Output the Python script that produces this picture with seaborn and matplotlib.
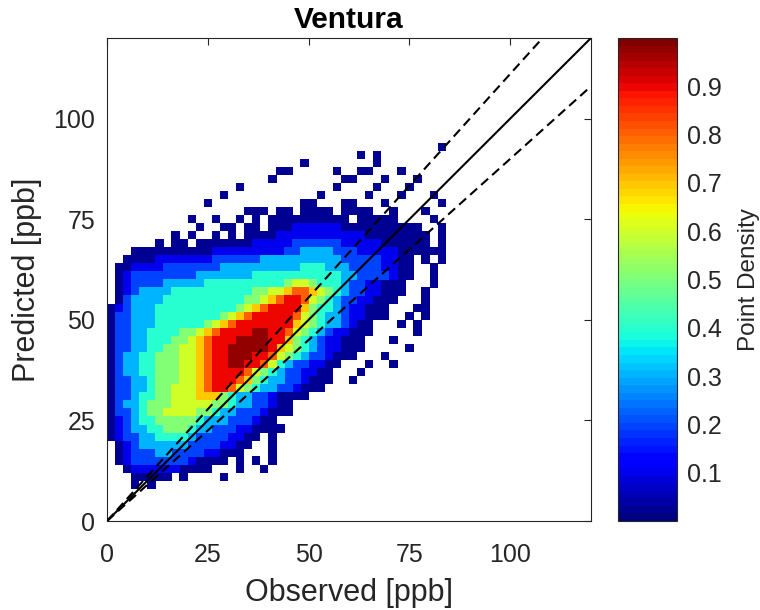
import matplotlib
matplotlib.use("Agg")
import matplotlib.pyplot as plt
from matplotlib.colors import Normalize
from matplotlib.cm import ScalarMappable
import pandas as pd
import seaborn as sns

title = "Ventura"
x_label = "Observed [ppb]"
y_label = "Predicted [ppb]"
cbar_label = "Point Density"
axis_ticks = [0, 25, 50, 75, 100]
cbar_ticks = [0.1, 0.2, 0.3, 0.4, 0.5, 0.6, 0.7, 0.8, 0.9]
ratio_lines = [0.9, 1 / 0.9]          # +/-10 % guide lines around 1:1

# Binned observations on a 2 ppb grid.
# Columns: observed = 1, 3, ..., 89 ; rows: predicted = 93, 91, ..., 9
observed_bins = list(range(1, 90, 2))
predicted_bins = list(range(93, 8, -2))

# Normalised point density per cell ('.' = no points in the cell)
density_code = {'0': 0.03, '1': 0.10, '2': 0.20, '3': 0.30, '4': 0.40,
                '5': 0.50, '6': 0.60, '7': 0.70, '8': 0.80, '9': 0.90,
                'a': 0.97}
density_rows = [
    "..... ..... ..... ..... ..... ..... ..... ..... .0...",  # 93
    "..... ..... ..... ..... ..... ..... .0.0. ..... .....",  # 91
    "..... ..... ..... ..... ....0 ..... ...0. ..... .....",  # 89
    "..... ..... ..... ..... .00.. ...0. .00.. .0... .....",  # 87
    "..... ..... ..... ..... 0.... ....0 0...0 ...0. .....",  # 85
    "..... ..... ..... .0... ..... ...0. ...0. ..0.. .....",  # 83
    "..... ..... ....0 ..... ..... .0... ..0.. .0... 0....",  # 81
    "..... ..... ..0.. ..... ....0 0...0 0...0 ..... .0...",  # 79
    "..... ..... ..... ..000 .00.0 000.0 000.. 0...0 .....",  # 77
    "..... ..... 0..0. .0.0. 00000 00000 .0000 0.... 0....",  # 75
    "..... ..... .0..0 0.00. 00011 11110 00000 0000. .0...",  # 73
    "..... ...0. 0..0. 0.000 01111 11111 11000 00000 .0...",  # 71
    "..... .0.00 .0000 00011 11122 22221 11110 00000 .0...",  # 69
    "...00 00000 00011 11111 11223 33322 21111 10000 00...",  # 67
    "..000 01111 11122 22223 33333 33332 22221 100.0 .0...",  # 65
    ".0011 11222 22223 33333 33334 44333 22221 100.. 0....",  # 63
    ".0122 22222 23333 33344 44444 44443 32222 100.. 0....",  # 61
    ".0122 22333 33444 44444 44566 54443 22110 00... 0....",  # 59
    ".0123 33344 44444 44455 66788 76543 22110 00..0 .....",  # 57
    ".0233 33444 44444 44556 78998 65432 21100 0...0 .....",  # 55
    "01233 34444 44444 45678 99997 54432 11000 ...00 .....",  # 53
    "02233 34444 44445 67899 99986 54332 11000 ..0.0 .....",  # 51
    "02233 34444 44567 89999 99976 54332 100.. .0.0. .....",  # 49
    "02233 44445 56789 999aa 99865 43211 000.. ...0. .....",  # 47
    "02233 44455 67899 9aaaa 99754 32110 00... 0.... .....",  # 45
    "02233 44556 67899 aaaaa 97654 32110 00... ..0.. .....",  # 43
    "02334 45556 67899 aaa99 86543 22100 0...0 ..... .....",  # 41
    "02334 45556 67899 aa998 64322 1100. ..0.. 0.... .....",  # 39
    "02334 45556 67899 99865 43221 100.. .0... ..... .....",  # 37
    "02233 45556 67899 98754 33221 000.. 0.... ..... .....",  # 35
    "02233 45566 67899 86543 32210 00... ..... ..... .....",  # 33
    "02234 45566 67775 43322 10000 ..... ..... ..... .....",  # 31
    "02334 55566 66655 43322 100.. ..... ..... ..... .....",  # 29
    "02234 55666 65543 32221 000.. ..... ..... ..... .....",  # 27
    "01234 45555 54333 22210 0.... ..... ..... ..... .....",  # 25
    "01233 44555 43322 21100 00... ..... ..... ..... .....",  # 23
    "01223 34444 32222 1100. 0.... ..... ..... ..... .....",  # 21
    ".0123 33333 22221 100.. 0.... ..... ..... ..... .....",  # 19
    ".0122 23322 22110 00... 0.... ..... ..... ..... .....",  # 17
    ".0122 22222 10000 .0.0. 0.... ..... ..... ..... .....",  # 15
    "..011 11110 000.. .0..0 ..... ..... ..... ..... .....",  # 13
    "...00 000.0 ....0 ..... ..... ..... ..... ..... .....",  # 11
    "...0. 0.... ..... ..... ..... ..... ..... ..... .....",  # 9
]

records = []
for pred, row in zip(predicted_bins, density_rows):
    cells = row.replace(" ", "")
    assert len(cells) == len(observed_bins)
    for obs, c in zip(observed_bins, cells):
        if c != '.':
            records.append((obs, pred, density_code[c]))
df = pd.DataFrame(records, columns=["Observed", "Predicted", "Density"])
df = df.sort_values("Density", kind="stable")

sns.set_style("white")
plt.rcParams["font.family"] = ["Liberation Sans", "DejaVu Sans"]
ink = "#262626"

fig = plt.figure(figsize=(7.6, 6.1), dpi=100)
ax = fig.add_axes([0.1408, 0.1459, 0.6368, 0.7918])

jet = matplotlib.colormaps["jet"].resampled(64)
norm = Normalize(0, 1)

sns.scatterplot(data=df, x="Observed", y="Predicted", hue="Density",
                palette=jet, hue_norm=norm, marker="s", s=36,
                linewidth=0, legend=False, ax=ax, zorder=2)

lim = 120
ax.plot([0, lim], [0, lim], color="k", lw=1.5, zorder=3)
for r in ratio_lines:
    ax.plot([0, lim], [0, lim * r], color="k", lw=1.5,
            ls=(0, (4.5, 2.6)), zorder=3)

ax.set_xlim(0, lim)
ax.set_ylim(0, lim)
ax.set_xticks(axis_ticks)
ax.set_yticks(axis_ticks)
ax.tick_params(direction="in", length=5, width=0.8, top=True, right=True,
               labelsize=18, colors=ink)
ax.tick_params(axis="x", pad=16)
ax.tick_params(axis="y", pad=8.5)
for sp in ax.spines.values():
    sp.set_visible(True)
    sp.set_color(ink)
    sp.set_linewidth(0.8)

ax.set_xlabel(x_label, fontsize=22, color=ink)
ax.xaxis.set_label_coords(0.5, -0.118)
ax.set_ylabel(y_label, fontsize=22, color=ink)
ax.yaxis.set_label_coords(-0.134, 0.5)
ax.set_title(title, fontsize=21.5, fontweight="bold", pad=7, color="k")

cax = fig.add_axes([0.8132, 0.1459, 0.0776, 0.7918])
cb = fig.colorbar(ScalarMappable(norm=norm, cmap=jet), cax=cax)
cb.set_ticks(cbar_ticks)
cb.ax.tick_params(direction="in", length=5, width=0.8, labelsize=18, pad=7,
                  colors=ink)
cb.outline.set_linewidth(0.8)
cb.outline.set_edgecolor(ink)
cb.set_label(cbar_label, fontsize=17.5, color=ink)
cb.ax.yaxis.set_label_coords(2.04, 0.5)

fig.savefig("out.png", dpi=100)
